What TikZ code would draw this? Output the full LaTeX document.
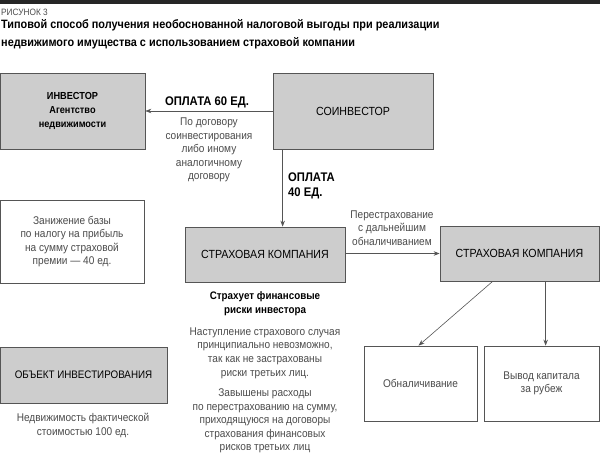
\documentclass[tikz,border=0pt]{standalone}
\usepackage{fontspec}
\setmainfont{Liberation Sans}[FakeStretch=0.9]
\usetikzlibrary{arrows.meta}

\definecolor{boxgray}{RGB}{205,205,205}
\definecolor{notegray}{RGB}{75,75,75}
\definecolor{linegray}{RGB}{85,85,85}

\tikzset{
  graybox/.style={draw=linegray, fill=boxgray, line width=0.7pt, align=center, inner sep=0pt},
  whitebox/.style={draw=linegray, fill=white, line width=0.7pt, align=center, inner sep=0pt},
  boxtext/.style={font=\fontsize{11.8}{14}\selectfont},
  note/.style={align=center, text=notegray, inner sep=0pt, font=\fontsize{11.2}{13.6}\selectfont},
  paylabel/.style={inner sep=0pt, font=\bfseries\fontsize{12.5}{15}\selectfont},
  arr/.style={-{Stealth[length=6pt,width=4.5pt]}, draw=linegray, line width=0.6pt}
}

\begin{document}
\begin{tikzpicture}[x=1pt,y=-1pt]
    \useasboundingbox (0,0) rectangle (600,458);
    \fill[black!85] (0,0) rectangle (600,3.5);

    % header
    \node[anchor=west, inner sep=0pt, text=notegray, font=\fontsize{9.2}{11}\selectfont] (fig) at (1,12) {РИСУНОК 3};
    \node[anchor=north west, inner sep=0pt, align=left, font=\bfseries\fontsize{12.1}{18}\selectfont] (title) at (1,19)
        {Типовой способ получения необоснованной налоговой выгоды при реализации\\
         недвижимого имущества с использованием страховой компании};

    % boxes
    \node[graybox, minimum width=145pt, minimum height=76pt, font=\bfseries\fontsize{10.2}{14}\selectfont] (inv) at (72.5,111)
        {ИНВЕСТОР\\Агентство\\недвижимости};
    \node[graybox, boxtext, minimum width=160pt, minimum height=76pt] (coinv) at (353,111) {СОИНВЕСТОР};
    \node[whitebox, note, minimum width=144pt, minimum height=83pt] (base) at (72,241.5)
        {Занижение базы\\по налогу на прибыль\\на сумму страховой\\премии — 40 ед.};
    \node[graybox, boxtext, minimum width=160pt, minimum height=55pt] (ins1) at (265,254.5) {СТРАХОВАЯ КОМПАНИЯ};
    \node[graybox, boxtext, minimum width=159pt, minimum height=55pt] (ins2) at (519.5,253.5) {СТРАХОВАЯ КОМПАНИЯ};
    \node[graybox, minimum width=167pt, minimum height=56pt, font=\fontsize{10.9}{14}\selectfont] (obj) at (83.5,375) {ОБЪЕКТ ИНВЕСТИРОВАНИЯ};
    \node[whitebox, note, minimum width=113pt, minimum height=75pt] (cash) at (420.5,383.5) {Обналичивание};
    \node[whitebox, note, minimum width=115pt, minimum height=75pt] (abroad) at (541.5,383.5) {Вывод капитала\\за рубеж};

    % payments
    \draw[arr] (coinv.west) -- (inv.east);
    \node[paylabel] (pay60) at (207,102) {ОПЛАТА 60 ЕД.};
    \node[note] (pay60note) at (209,150) {По договору\\соинвестирования\\либо иному\\аналогичному\\договору};

    \coordinate (c40) at ([xshift=10pt]coinv.south west);
    \draw[arr] (c40) -- (c40 |- ins1.north);
    \node[paylabel, anchor=north west, align=left] (pay40) at (288,173) {ОПЛАТА\\40 ЕД.};

    \draw[arr] (ins1.east |- ins2.west) -- (ins2.west);
    \node[note] (reins) at (392,228) {Перестрахование\\с дальнейшим\\обналичиванием};

    \coordinate (d1) at ([xshift=53pt]ins2.south west);
    \coordinate (d2) at ([xshift=106pt]ins2.south west);
    \draw[arr] (d1) -- ([xshift=-2pt]cash.north);
    \draw[arr] (d2) -- (d2 |- abroad.north);

    % notes
    \node[inner sep=0pt, align=center, font=\bfseries\fontsize{10.9}{13.5}\selectfont] (risk) at (265,303.5)
        {Страхует финансовые\\риски инвестора};
    \node[note] (event) at (265,353) {Наступление страхового случая\\принципиально невозможно,\\так как не застрахованы\\риски третьих лиц.};
    \node[note] (cost) at (265,421) {Завышены расходы\\по перестрахованию на сумму,\\приходящуюся на договоры\\страхования финансовых\\рисков третьих лиц};
    \node[note] (objnote) at (83,425.5) {Недвижимость фактической\\стоимостью 100 ед.};
\end{tikzpicture}
\end{document}
